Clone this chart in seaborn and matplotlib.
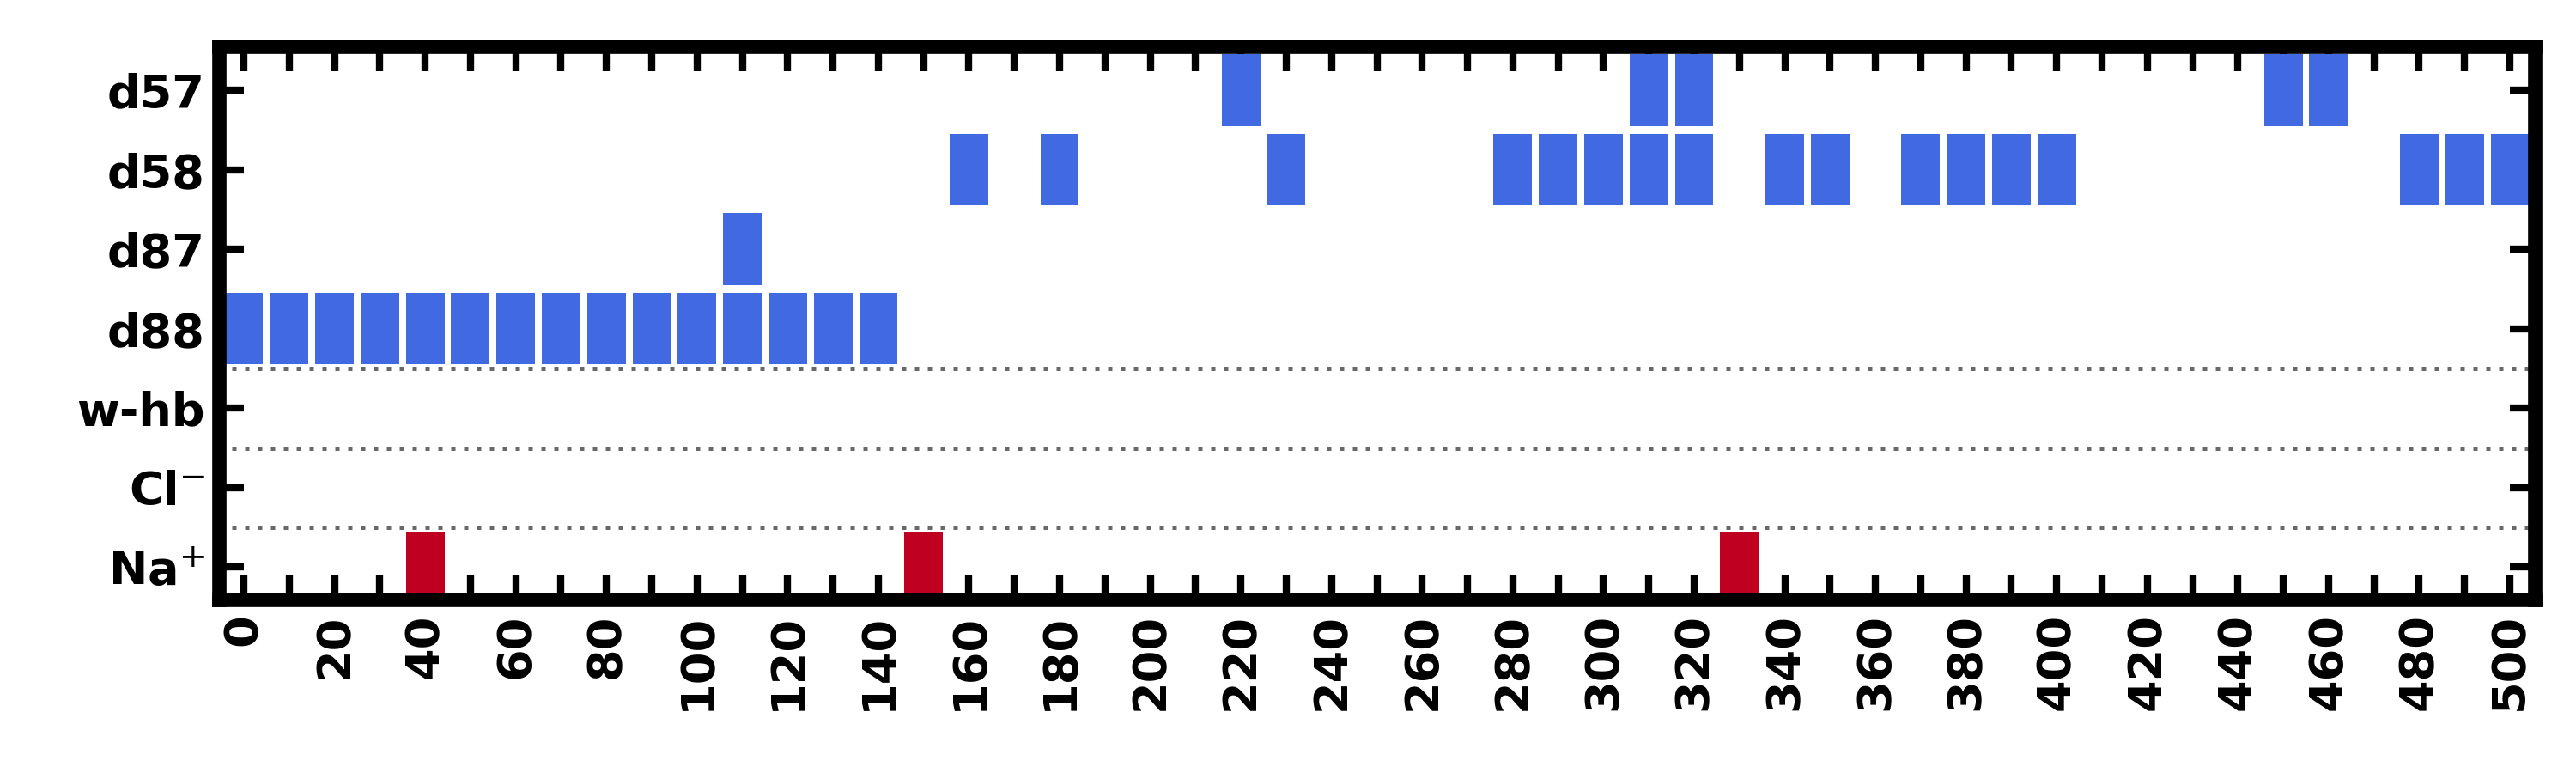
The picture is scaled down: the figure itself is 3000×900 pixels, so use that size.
import matplotlib
matplotlib.use("Agg")
import matplotlib.pyplot as plt
import seaborn as sns
import pandas as pd

rows = ["Na$^{+}$", "Cl$^{-}$", "w-hb", "d88", "d87", "d58", "d57"]
d57 = [220, 310, 320, 450, 460]
d58 = [160, 180, 230, 280, 290, 300, 310, 320, 340, 350, 370, 380, 390, 400, 480, 490, 500]
d87 = [110]
d88 = [0, 10, 20, 30, 40, 50, 60, 70, 80, 90, 100, 110, 120, 130, 140]
whb = []
cl = []
na = [40, 150, 330]

blue = "#4169E1"
red = "#C00020"

series = {"d57": (d57, blue), "d58": (d58, blue), "d87": (d87, blue), "d88": (d88, blue),
          "w-hb": (whb, blue), "Cl": (cl, red), "Na": (na, red)}
order = ["Na", "Cl", "w-hb", "d88", "d87", "d58", "d57"]

recs = []
for name, (xs, col) in series.items():
    for x in xs:
        recs.append({"frame": x, "row": order.index(name), "color": col})
df = pd.DataFrame(recs)

sns.set_style("white")
plt.rcParams["font.family"] = ["DejaVu Sans"]
fig = plt.figure(figsize=(10, 3), dpi=300)
ax = fig.add_axes([0.085, 0.225, 0.899, 0.715])

ax.bar(df["frame"], 0.9, width=8.5, bottom=df["row"] - 0.45, color=df["color"], linewidth=0)

for y in [0.5, 1.5, 2.5]:
    ax.axhline(y, color="dimgray", linestyle=(0, (1, 2)), linewidth=1.2)

ax.set_xlim(-5.5, 505.5)
ax.set_ylim(-0.4, 6.55)
ax.set_yticks(range(len(rows)))
ax.set_yticklabels(rows, fontsize=13, fontweight="bold", color="black")
ax.set_xticks(range(0, 501, 20))
ax.set_xticks(range(0, 501, 10), minor=True)
ax.set_xticklabels([str(v) for v in range(0, 501, 20)], rotation=90, fontsize=13,
                   fontweight="bold", color="black")
ax.tick_params(axis="both", which="both", direction="in", top=True, right=True,
               bottom=True, left=True, length=7, width=2, pad=4, colors="black")
for s in ax.spines.values():
    s.set_linewidth(4)
    s.set_color("black")

fig.savefig("out.png", dpi=300)
